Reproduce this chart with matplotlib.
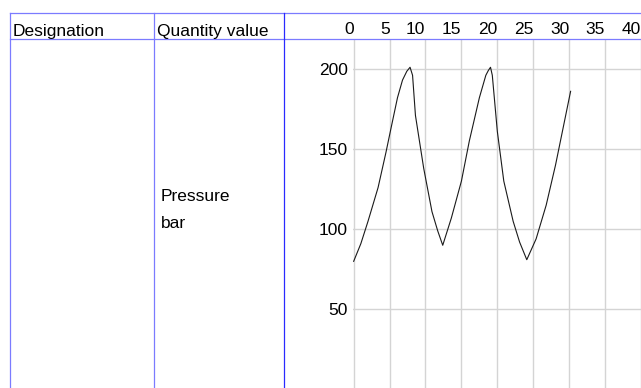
import matplotlib
matplotlib.use('Agg')
import matplotlib.pyplot as plt
from matplotlib.lines import Line2D

plt.rcParams['font.family'] = ['Liberation Sans', 'DejaVu Sans']

# pressure trace over time
time_s = [0, 1, 2.0, 3.4, 4.5, 5.2, 6.1, 6.8, 7.4, 7.85, 8.2, 8.6, 9.75, 10.9,
          11.7, 12.4, 13.6, 15.0, 16.1, 17.5, 18.4, 18.75, 19.05, 19.3, 20.0,
          20.9, 22.2, 23.1, 24.1, 25.4, 26.8, 28.1, 30.2]
pressure_bar = [80, 91, 105, 126, 148, 163, 182, 193, 198.5, 201, 196, 171, 138,
                111, 99, 90, 107, 130, 155, 182, 196, 199, 201, 196, 161,
                130, 105, 92, 81, 94, 115, 140, 186]

x_ticks = [0, 5, 10, 15, 20, 25, 30, 35, 40]
y_ticks = [50, 100, 150, 200]

header_labels = ["Designation", "Quantity value"]
quantity_lines = ["Pressure", "bar"]

W, H = 641, 388
fig = plt.figure(figsize=(W / 100, H / 100), dpi=100)


def fx(px):
    return px / W


def fy(py):
    return 1 - py / H


# chart area sits in the third column, below the header row
ax_left, ax_top = 353.3, 40
ax = fig.add_axes([fx(ax_left), 0, 1 - fx(ax_left), fy(ax_top)])
ax.plot(time_s, pressure_bar, color='#1a1a1a', lw=0.8)
ax.set_xlim(-0.05, 39.1)
ax.set_ylim(1, 218)
ax.set_xticks(x_ticks)
ax.set_yticks(y_ticks)
ax.xaxis.tick_top()
ax.tick_params(axis='both', length=0, labelsize=12.5)
ax.tick_params(axis='x', pad=2)
ax.tick_params(axis='y', pad=4)
for lbl in ax.get_xticklabels():
    lbl.set_horizontalalignment('right')
ax.grid(True, color='#d4d4d4', lw=1)
ax.set_axisbelow(True)
for sp in ax.spines.values():
    sp.set_visible(False)

# table frame
light = '#7b7bff'
dark = '#2a2aff'
frame = [
    ((10, W), (13, 13), light),
    ((10, W), (39, 39), light),
    ((10, 10), (13, H), light),
    ((153.5, 153.5), (13, H), light),
    ((283.5, 283.5), (13, H), dark),
]
for xs, ys, c in frame:
    fig.add_artist(Line2D([fx(v) for v in xs], [fy(v) for v in ys],
                          color=c, lw=0.9, transform=fig.transFigure))

# header and cell text
fig.text(fx(13), fy(36), header_labels[0], fontsize=12.5, va='baseline')
fig.text(fx(157), fy(36), header_labels[1], fontsize=12.5, va='baseline')
fig.text(fx(161), fy(201), quantity_lines[0], fontsize=12.5, va='baseline')
fig.text(fx(161), fy(228), quantity_lines[1], fontsize=12.5, va='baseline')

fig.savefig('out.png', dpi=100)
